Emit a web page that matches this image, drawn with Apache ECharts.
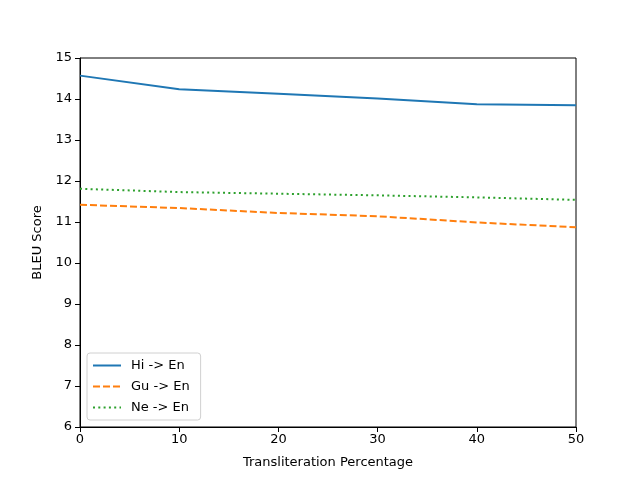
<!DOCTYPE html>
<html><head><meta charset="utf-8">
<script src="https://cdn.jsdelivr.net/npm/echarts@6/dist/echarts.min.js"></script>
<style>html,body{margin:0;padding:0;background:#fff}#c{width:640px;height:480px}</style>
</head><body><div id="c"></div>
<script>
const xValues = [0, 10, 20, 30, 40, 50];
const hiEn = [14.57, 14.24, 14.13, 14.01, 13.87, 13.85];
const guEn = [11.42, 11.34, 11.22, 11.14, 10.99, 10.87];
const neEn = [11.81, 11.73, 11.69, 11.65, 11.60, 11.54];
const seriesNames = ['Hi -> En', 'Gu -> En', 'Ne -> En'];
const colors = ['#1f77b4', '#ff7f0e', '#2ca02c'];
const font = 'DejaVu Sans';
const pairs = a => xValues.map((x, i) => [x, a[i]]);
const chart = echarts.init(document.getElementById('c'));
chart.setOption({
  animation: false,
  backgroundColor: '#fff',
  textStyle: {fontFamily: font},
  grid: {left: 80, right: 64, top: 58, bottom: 53, show: true, borderColor: '#000', borderWidth: 1, backgroundColor: 'transparent'},
  legend: {
    orient: 'vertical', left: 87, top: 353,
    data: seriesNames,
    itemWidth: 28, itemHeight: 13, itemGap: 8,
    padding: [6, 11, 6, 5],
    borderColor: '#d0d0d0', borderWidth: 1, borderRadius: 3,
    backgroundColor: 'rgba(255,255,255,0.8)',
    itemStyle: {color: 'transparent', borderColor: 'transparent', borderWidth: 0, opacity: 0},
    textStyle: {fontFamily: font, fontSize: 13, color: '#000', padding: [0, 0, 0, 5]}
  },
  xAxis: {
    type: 'value', min: 0, max: 50, interval: 10,
    name: 'Transliteration Percentage', nameLocation: 'middle', nameGap: 29,
    nameTextStyle: {fontFamily: font, fontSize: 13, color: '#000'},
    axisLine: {show: true, lineStyle: {color: '#000'}},
    axisTick: {show: true, length: 5, lineStyle: {color: '#000'}},
    axisLabel: {fontFamily: font, fontSize: 13, color: '#000', margin: 6},
    splitLine: {show: false}
  },
  yAxis: {
    type: 'value', min: 6, max: 15, interval: 1,
    name: 'BLEU Score', nameLocation: 'middle', nameGap: 33,
    nameTextStyle: {fontFamily: font, fontSize: 13, color: '#000'},
    axisLine: {show: true, lineStyle: {color: '#000'}},
    axisTick: {show: true, length: 5, lineStyle: {color: '#000'}},
    axisLabel: {fontFamily: font, fontSize: 13, color: '#000', margin: 8},
    splitLine: {show: false}
  },
  series: [
    {name: seriesNames[0], type: 'line', data: pairs(hiEn), showSymbol: false, symbol: 'none', color: colors[0], lineStyle: {width: 2, color: colors[0], type: 'solid'}},
    {name: seriesNames[1], type: 'line', data: pairs(guEn), showSymbol: false, symbol: 'none', color: colors[1], lineStyle: {width: 2, color: colors[1], type: [7, 3]}},
    {name: seriesNames[2], type: 'line', data: pairs(neEn), showSymbol: false, symbol: 'none', color: colors[2], lineStyle: {width: 2, color: colors[2], type: [2, 3.3]}}
  ]
});
</script></body></html>
